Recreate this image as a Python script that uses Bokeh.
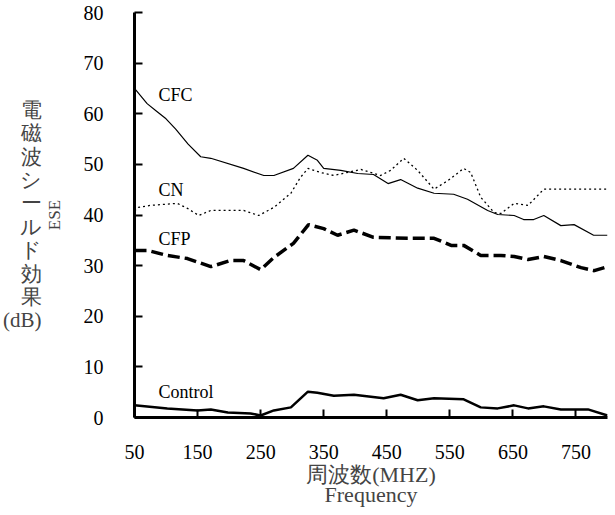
from bokeh.plotting import figure
from bokeh.models import Label, FixedTicker, Range1d, LinearAxis
from bokeh.embed import file_html
from bokeh.resources import INLINE

# ---- data ----
x_ticks = [50, 150, 250, 350, 450, 550, 650, 750]
y_ticks = [0, 10, 20, 30, 40, 50, 60, 70, 80]

cfc_x = [50, 70, 85, 100, 115, 135, 155, 171, 223, 255, 271, 302, 325, 340, 350, 377, 404, 429,
         452, 472, 499, 525, 556, 578, 610, 626, 652, 667, 683, 699, 726, 747, 778, 800]
cfc_y = [65.0, 62.0, 60.5, 59.0, 57.0, 54.0, 51.5, 51.2, 49.2, 47.8, 47.8, 49.2, 51.8, 50.8,
         49.2, 48.8, 48.2, 48.0, 46.2, 47.0, 45.3, 44.3, 44.1, 43.1, 40.9, 40.1, 39.9, 39.1,
         39.1, 39.9, 37.9, 38.1, 36.0, 36.0]

cn_x = [50, 56, 75, 118, 134, 152, 171, 223, 247, 271, 298, 313, 325, 345, 366, 409, 440,
        456, 477, 499, 525, 547, 572, 583, 599, 620, 631, 652, 674, 699, 750, 800]
cn_y = [40.8, 41.5, 41.9, 42.3, 41.3, 39.9, 40.9, 40.9, 39.9, 41.5, 44.3, 47.4, 49.2, 48.4,
        47.8, 49.0, 47.8, 48.8, 51.2, 48.8, 45.1, 46.8, 49.2, 48.4, 43.5, 40.5, 40.3, 42.3,
        41.9, 45.1, 45.1, 45.1]

cfp_x = [50, 71, 102, 134, 171, 202, 223, 250, 271, 302, 326, 350, 372, 398, 429, 483, 525,
         552, 572, 599, 631, 652, 674, 699, 726, 758, 779, 800]
cfp_y = [33.0, 33.0, 32.0, 31.4, 29.8, 31.0, 31.0, 29.2, 31.6, 34.4, 38.1, 37.3, 36.0, 37.0,
         35.6, 35.4, 35.4, 34.0, 34.0, 32.0, 32.0, 31.8, 31.2, 31.8, 31.0, 29.6, 29.0, 29.8]

ctrl_x = [50, 102, 150, 171, 198, 234, 250, 271, 298, 325, 340, 366, 398, 445, 472, 499, 525,
          572, 599, 626, 652, 674, 699, 726, 769, 800]
ctrl_y = [2.4, 1.8, 1.4, 1.6, 1.0, 0.8, 0.4, 1.4, 2.0, 5.1, 4.9, 4.3, 4.5, 3.8, 4.5, 3.4, 3.8,
          3.6, 2.0, 1.8, 2.4, 1.8, 2.2, 1.6, 1.6, 0.4]

series_names = ["CFC", "CN", "CFP", "Control"]
series_label_pos = [(88, 63.8), (88, 45.0), (88, 35.2), (88, 5.1)]

y_label_jp = "電\n磁\n波\nシ\nー\nル\nド\n効\n果\n(dB)"
y_label_en = "ESE"
x_label_1 = "周波数(MHZ)"
x_label_2 = "Frequency"

SERIF = "Liberation Serif"

p = figure(width=612, height=512, output_backend="svg", toolbar_location=None,
           x_range=Range1d(50, 800), y_range=Range1d(0, 80),
           min_border_left=134, min_border_right=5, min_border_top=12, min_border_bottom=95)
p.outline_line_color = None
p.grid.visible = False
p.background_fill_color = "white"
p.border_fill_color = "white"

for ax in (p.xaxis[0], p.yaxis[0]):
    ax.axis_line_width = 3
    ax.axis_line_color = "black"
    ax.major_tick_line_width = 2
    ax.major_tick_line_color = "black"
    ax.major_tick_in = 8
    ax.major_tick_out = 0
    ax.minor_tick_line_color = None
    ax.major_label_text_font = SERIF
    ax.major_label_text_font_size = "20px"
    ax.major_label_text_color = "black"

p.xaxis.ticker = FixedTicker(ticks=x_ticks)
p.yaxis.ticker = FixedTicker(ticks=y_ticks)
p.xaxis.major_label_standoff = 27
p.yaxis.major_label_standoff = 31

# inner left axis label: ESE (rotated)
p.yaxis.axis_label = y_label_en
p.yaxis.axis_label_text_font = SERIF
p.yaxis.axis_label_text_font_style = "normal"
p.yaxis.axis_label_text_font_size = "17px"
p.yaxis.axis_label_standoff = 17

# outer left axis: stacked Japanese label (CJK glyphs fall back to the installed CJK font)
ax_jp = LinearAxis(ticker=FixedTicker(ticks=[]), axis_line_color=None,
                   major_tick_line_color=None, minor_tick_line_color=None,
                   axis_label=y_label_jp, axis_label_orientation="horizontal",
                   axis_label_text_font=SERIF, axis_label_text_font_style="normal",
                   axis_label_text_font_size="21px", axis_label_text_line_height=0.975,
                   axis_label_standoff=0)
p.add_layout(ax_jp, "left")

# bottom axis labels
p.xaxis.axis_label = x_label_1
p.xaxis.axis_label_text_font = SERIF
p.xaxis.axis_label_text_font_style = "normal"
p.xaxis.axis_label_text_font_size = "22px"
p.xaxis.axis_label_standoff = 0

ax_en = LinearAxis(ticker=FixedTicker(ticks=[]), axis_line_color=None,
                   major_tick_line_color=None, minor_tick_line_color=None,
                   axis_label=x_label_2, axis_label_text_font=SERIF,
                   axis_label_text_font_style="normal", axis_label_text_font_size="22px",
                   axis_label_standoff=-8)
p.add_layout(ax_en, "below")

p.line(cfc_x, cfc_y, line_color="black", line_width=1.2)
p.line(cn_x, cn_y, line_color="black", line_width=1.3, line_dash="2 3")
p.line(cfp_x, cfp_y, line_color="black", line_width=3.5, line_dash="12 5")
p.line(ctrl_x, ctrl_y, line_color="black", line_width=2.5)

for name, (lx, ly) in zip(series_names, series_label_pos):
    p.add_layout(Label(x=lx, y=ly, text=name, text_font=SERIF, text_font_size="18px",
                       text_baseline="middle", text_align="left", text_color="black"))

open("out.html", "w").write(file_html(p, INLINE))
